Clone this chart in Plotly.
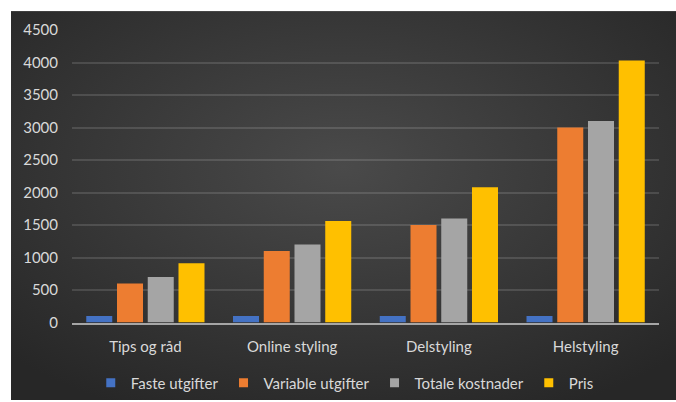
import base64
import plotly.graph_objects as go

categories = ["Tips og råd", "Online styling", "Delstyling", "Helstyling"]
faste_utgifter = [100, 100, 100, 100]
variable_utgifter = [600, 1100, 1500, 3000]
totale_kostnader = [700, 1200, 1600, 3100]
pris = [910, 1560, 2080, 4030]
series_names = ["Faste utgifter", "Variable utgifter", "Totale kostnader", "Pris"]
series_colors = ["#4472C4", "#ED7D31", "#A5A5A5", "#FFC000"]
y_ticks = [0, 500, 1000, 1500, 2000, 2500, 3000, 3500, 4000, 4500]

W, H = 676, 402
L, R, T, B = 72, 17, 30, 78
pw, ph = W - L - R, H - T - B

svg = """<svg xmlns='http://www.w3.org/2000/svg' viewBox='0 0 665 391' width='665' height='391' preserveAspectRatio='none'>
<defs><radialGradient id='g' cx='50%' cy='40%' r='70%'>
<stop offset='0%' stop-color='#4a4a4a'/><stop offset='100%' stop-color='#272727'/>
</radialGradient></defs><rect width='665' height='391' fill='url(#g)'/></svg>"""
src = "data:image/svg+xml;base64," + base64.b64encode(svg.encode()).decode()

fam = "Lato, Open Sans, sans-serif"
font = dict(family=fam, size=15, color="#d9d9d9")

fig = go.Figure()
for name, vals, col in zip(series_names, [faste_utgifter, variable_utgifter, totale_kostnader, pris], series_colors):
    fig.add_trace(go.Bar(x=categories, y=vals, name=name, showlegend=False,
                         marker=dict(color=col, line=dict(width=0))))
# legend entries with small square swatches
for name, col in zip(series_names, series_colors):
    fig.add_trace(go.Scatter(x=[None], y=[None], mode="markers", name=name,
                             marker=dict(symbol="square", size=9, color=col)))

fig.update_layout(
    width=W, height=H,
    margin=dict(l=L, r=R, t=T, b=B),
    paper_bgcolor="white",
    plot_bgcolor="rgba(0,0,0,0)",
    barmode="group", bargap=0.162, bargroupgap=0.154,
    font=font,
    showlegend=True,
    legend=dict(orientation="h", xref="container", yref="container",
                x=0.51, xanchor="center", y=(H - 383) / H, yanchor="middle",
                font=font, bgcolor="rgba(0,0,0,0)", traceorder="normal", itemwidth=30),
    images=[dict(source=src, xref="paper", yref="paper",
                 x=(11 - L) / pw, y=(T + ph - 11) / ph,
                 sizex=(W - 11) / pw, sizey=(H - 11) / ph,
                 xanchor="left", yanchor="top", sizing="stretch", layer="below")],
    xaxis=dict(showgrid=False, showline=True, linecolor="#a6a6a6", linewidth=2,
               tickfont=font, ticklabelstandoff=9, zeroline=False),
    yaxis=dict(range=[0, 4500], tickvals=y_ticks, showgrid=True, gridcolor="rgba(255,255,255,0.13)",
               gridwidth=1.5, zeroline=False, showline=False, tickfont=font, ticklabelstandoff=13),
)

fig.write_html("out.html")
